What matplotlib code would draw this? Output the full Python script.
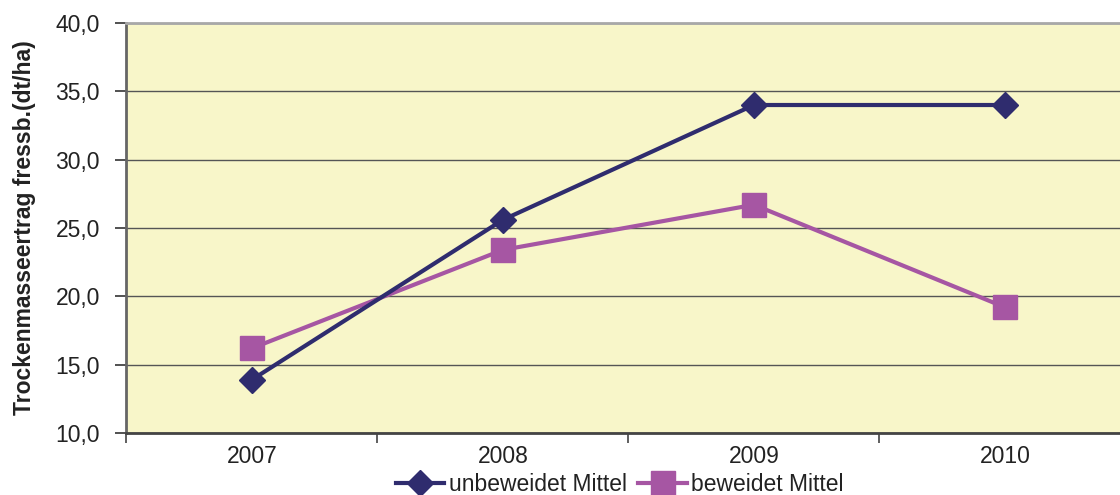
import matplotlib.pyplot as plt
from matplotlib.ticker import FuncFormatter

years = ["2007", "2008", "2009", "2010"]
unbeweidet = [13.9, 25.6, 34.0, 34.0]
beweidet = [16.2, 23.4, 26.7, 19.2]

plt.rcParams['font.family'] = ['Liberation Sans', 'DejaVu Sans']

fig = plt.figure(figsize=(11.2, 4.95), dpi=100)
ax = fig.add_axes([0.1129, 0.1253, 0.8964, 0.8282])
ax.set_facecolor("#F8F6C9")

x = list(range(len(years)))
ax.plot(x, unbeweidet, color="#2F2C6E", lw=3.0, marker="D", ms=13,
        label="unbeweidet Mittel", zorder=4)
ax.plot(x, beweidet, color="#A656A3", lw=3.0, marker="s", ms=17,
        label="beweidet Mittel", zorder=3)

ax.set_xlim(-0.5, 3.5)
ax.set_ylim(10, 40)
ax.set_yticks(range(10, 41, 5))
ax.yaxis.set_major_formatter(FuncFormatter(lambda v, p: f"{v:.1f}".replace(".", ",")))
ax.grid(axis="y", color="#555555", lw=1.0)
ax.set_axisbelow(True)

ax.set_xticks(x)
ax.set_xticklabels(years)
ax.set_xticks([-0.5, 0.5, 1.5, 2.5, 3.5], minor=True)
ax.tick_params(axis="x", which="major", length=0, pad=9, labelsize=16.5, labelcolor="#222222")
ax.tick_params(axis="x", which="minor", length=7, width=1.2, color="#444444")
ax.tick_params(axis="y", length=8, width=1.2, color="#333333", pad=11,
               labelsize=16.5, labelcolor="#222222")

ax.spines["right"].set_visible(False)
ax.spines["top"].set_color("#A8A8A8")
ax.spines["top"].set_linewidth(2)
ax.spines["left"].set_color("#666666")
ax.spines["left"].set_linewidth(2)
ax.spines["bottom"].set_color("#444444")
ax.spines["bottom"].set_linewidth(2)

fig.text(25 / 1120, 1 - 228 / 495, "Trockenmasseertrag fressb.(dt/ha)", rotation=90,
         ha="center", va="center", fontsize=16.5, fontweight="bold", color="#222222")

fig.legend(loc="lower center", bbox_to_anchor=(620 / 1120, -0.035), ncol=2,
           frameon=False, fontsize=16.5, handlelength=2.1, handletextpad=0.2,
           columnspacing=0.5, borderpad=0.2, labelcolor="#222222")

fig.savefig("out.png", dpi=100)
